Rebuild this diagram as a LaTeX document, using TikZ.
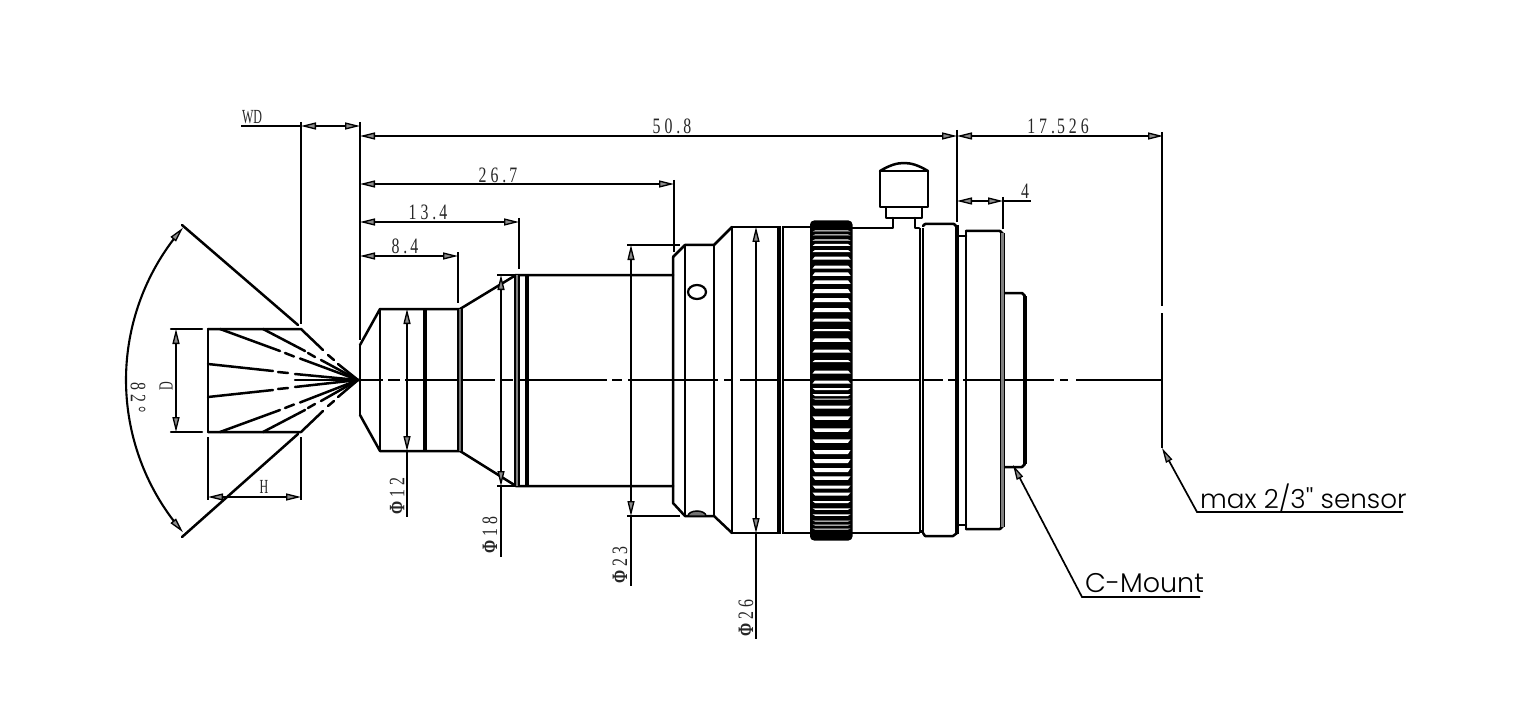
\documentclass[tikz,border=0pt]{standalone}
\usepackage{fontspec}
\usetikzlibrary{arrows.meta}
\newfontfamily\dimfont[FakeStretch=0.72,LetterSpace=18]{Liberation Serif}
\newfontfamily\narrowfont[FakeStretch=0.6]{Liberation Serif}
\newfontfamily\gothicfont[UprightFont=* Light]{Poppins}
\tikzset{
  obj/.style={line width=2.5pt,line cap=round,line join=round},
  thickobj/.style={line width=4.5pt},
  dimtip/.tip={Triangle[length=15pt,width=7pt,fill=black!45,line width=1.3pt]},
  dimline/.style={line width=1.7pt},
  dimboth/.style={line width=1.7pt,{dimtip}-{dimtip}},
  dimtext/.style={inner sep=0pt,font=\dimfont\fontsize{22}{22}\selectfont,text=black!85},
  lettertext/.style={inner sep=0pt,font=\narrowfont\fontsize{20}{20}\selectfont,text=black!85},
  leader/.style={inner sep=0pt,font=\gothicfont\fontsize{27}{27}\selectfont,anchor=west},
}
\begin{document}
\begin{tikzpicture}[x=1pt,y=-1pt]
\useasboundingbox (0,0) rectangle (1518,722);
\fill[white] (0,0) rectangle (1518,722);
\coordinate (apex) at (358,380);

% --- axis
\foreach \a/\b in {360/383,388/400,405/495,501/513,518/607,612/622,628/718,724/732,740/830,835/847,852/943,948/955,963/1054,1060/1068,1076/1163}
  \draw[dimline] (\a,380) -- (\b,380);

% --- field cone
\draw[obj] (208,329) -- (301,329) -- (323,350);
\draw[obj] (328,355) -- (334,360);
\draw[obj] (338,364) -- (apex);
\draw[obj] (208,432) -- (301,432) -- (323,411);
\draw[obj] (328,406) -- (334,401);
\draw[obj] (338,397) -- (apex);
\draw[obj] (208,329) -- (208,432);
\draw[obj] (263,329) -- (305,351);
\draw[obj] (308,353) -- (315,357);
\draw[obj] (321,360) -- (apex);
\draw[obj] (263,432) -- (305,410);
\draw[obj] (308,408) -- (315,404);
\draw[obj] (321,401) -- (apex);
\draw[obj] (220,329) -- (280,351);
\draw[obj] (285,353) -- (294,356.5);
\draw[obj] (300,358.5) -- (apex);
\draw[obj] (220,432) -- (280,410);
\draw[obj] (285,408) -- (294,404.5);
\draw[obj] (300,402.5) -- (apex);
\draw[obj] (208,364) -- (273,371);
\draw[obj] (278,372) -- (288,373);
\draw[obj] (295,374) -- (apex);
\draw[obj] (208,397) -- (273,390);
\draw[obj] (278,389) -- (288,388);
\draw[obj] (295,387) -- (apex);
\draw[obj] (295,380) -- (apex);

% --- angle
\draw[obj] (182,225) -- (298,325);
\draw[obj] (182,537) -- (298,434);
\draw[line width=2.1pt,{dimtip}-{dimtip}] plot[smooth,samples=41,domain=-41:41] ({358-232*cos(\x)},{380+232*sin(\x)});
\node[dimtext,rotate=-90] (angle) at (138,398) {82°};

% --- D and H and WD
\draw[obj] (171,329) -- (202,329);
\draw[obj] (171,432) -- (202,432);
\draw[dimboth] (176,329) -- (176,432);
\node[lettertext,rotate=90] (dD) at (166,386) {D};
\draw[dimline] (208,437) -- (208,500);
\draw[dimline] (301,437) -- (301,500);
\draw[dimboth] (208,497) -- (301,497);
\node[lettertext] (dH) at (264,487) {H};
\draw[dimline] (301,122) -- (301,324);
\draw[dimline] (241,126) -- (301,126);
\draw[dimboth] (301,126) -- (360,126);
\node[lettertext] (dWD) at (252,117) {WD};

% --- top dims
\draw[line width=2.6pt] (360,122) -- (360,340);
\draw[dimboth] (360,136) -- (957,136);
\draw[dimboth] (957,136) -- (1163,136);
\node[dimtext] (d508) at (672,126) {50.\kern3pt 8};
\node[dimtext] (d17) at (1058,126) {17.\kern2pt 526};
\draw[dimboth] (360,184) -- (674,184);
\draw[dimline] (674,180) -- (674,252);
\node[dimtext] (d267) at (498,175) {26.\kern3pt 7};
\draw[dimboth] (360,222) -- (519,222);
\draw[dimline] (519,218) -- (519,269);
\node[dimtext] (d134) at (428,212) {13.\kern3pt 4};
\draw[dimboth] (360,256) -- (458,256);
\draw[dimline] (458,252) -- (458,303);
\node[dimtext] (d84) at (405,246) {8.\kern3pt 4};
\draw[line width=2.4pt] (957,130) -- (957,222);
\draw[dimboth] (957,201) -- (1003,201);
\draw[dimline] (1003,201) -- (1031,201);
\draw[dimline] (1003,197) -- (1003,229);
\node[dimtext] (d4) at (1025,191) {4};
\draw[dimline] (1162,132) -- (1162,306);
\draw[dimline] (1162,313) -- (1162,448);

% --- front barrel
\draw[obj] (360,345) -- (360,415);
\draw[obj] (360,345) -- (380,309) -- (460,309) -- (516,275) -- (673,275);
\draw[obj] (360,415) -- (380,451) -- (460,451) -- (516,486) -- (673,486);
\draw[obj] (380,309) -- (380,451);
\draw[thickobj] (425,309) -- (425,451);
\draw[line width=4.5pt,black!55] (460,309) -- (460,451);
\draw[line width=1.8pt] (458,309) -- (458,451);
\draw[line width=1.8pt] (462,309) -- (462,451);
\draw[line width=4.5pt,black!50] (517,275) -- (517,486);
\draw[line width=1.8pt] (515,275) -- (515,486);
\draw[line width=1.8pt] (519,275) -- (519,486);
\draw[line width=3.5pt] (527,275) -- (527,486);

% --- mid barrel
\draw[obj] (673,257) -- (673,503) -- (685,516) -- (714,516) -- (732,533);
\draw[obj] (673,257) -- (685,245) -- (714,245) -- (732,227);
\draw[obj] (685,245) -- (685,516);
\draw[obj] (714,245) -- (714,516);
\draw[obj] (732,227) -- (732,533);
\draw[line width=2.2pt] (697,292) ellipse [x radius=9,y radius=7];
\fill[black!55,draw=black,line width=1.5pt] (688,516) arc[start angle=180,end angle=0,x radius=9,y radius=-5] -- cycle;
\draw[obj] (732,227) -- (810,227);
\draw[obj] (732,533) -- (810,533);
\draw[line width=4.5pt] (779,227) -- (779,533);
\draw[line width=2pt] (783,227) -- (783,533);
\draw[white,line width=1.2pt] (781.5,224) -- (781.5,536);

% --- knurl
\fill[black,rounded corners=4pt] (810,220.5) rectangle (852.5,540.5);
\foreach \y/\h in {231/1,235/1,240/1.2,245/2,251/2,258/3,267/3,274/3.5,282/3.5,291/4,300/4,310/4,320/3,330/2,340/3.5,351/3,361/2,372/3,382/3}
  \fill[white] (815,\y-\h/2) -- (848,\y-\h/2) -- (850.5,\y+\h/2) -- (812.5,\y+\h/2) -- cycle;
\foreach \y/\h in {389/2,395/2,399/1,407/3,418/3.5,430/3.5,441/3.5,452/4,461/4,470/4,478/3.5,487/3,494/3,502/2,509/1.5,515/1.5,521/1,525/1,529/1}
  \fill[white] (812.5,\y-\h/2) -- (850.5,\y-\h/2) -- (848,\y+\h/2) -- (815,\y+\h/2) -- cycle;

% --- rear barrel
\draw[obj] (852,228) -- (893,228) -- (893,218);
\draw[obj] (915,218) -- (915,228) -- (919,228);
\draw[obj] (852,533) -- (919,533);
\draw[line width=5pt] (921,228) -- (921,533);
\draw[white,line width=.6pt] (921,228) -- (921,530);
\draw[obj] (880,171) rectangle (928,207);
\draw[obj] (886,207) rectangle (922,218);
\draw[obj] (880,171) .. controls (890,165) and (897,163) .. (904,163) .. controls (911,163) and (918,165) .. (928,171);
\draw[obj] (923,226) -- (925,224) -- (954,224) -- (957,227);
\draw[obj] (923,533) -- (925,536) -- (953,536) -- (957,533);
\draw[line width=4pt] (956.5,225) -- (956.5,534);
\draw[obj] (958,236) -- (966,236);
\draw[obj] (958,525) -- (966,525);
\draw[obj] (966,231) -- (966,529);
\draw[obj] (966,231) -- (1000,231) -- (1003,234);
\draw[obj] (966,529) -- (1000,529) -- (1003,526);
\draw[line width=4pt,black!50] (1002.5,233) -- (1002.5,527);
\draw[line width=1.8pt] (1000.5,233) -- (1000.5,527);
\draw[line width=1.8pt] (1004.5,233) -- (1004.5,527);
\draw[obj] (1005,293) -- (1022,293) -- (1025,296);
\draw[obj] (1005,467) -- (1022,467) -- (1025,464);
\draw[line width=3.6pt] (1025,296) -- (1025,464);

% --- diameter dims
\draw[dimboth] (407,309) -- (407,451);
\draw[dimline] (407,451) -- (407,517);
\node[dimtext,rotate=90] (d12) at (397,496) {\textbf{Φ}12};
\draw[dimline] (497,275) -- (516,275);
\draw[dimline] (497,486) -- (516,486);
\draw[dimboth] (501,275) -- (501,486);
\draw[dimline] (501,486) -- (501,557);
\node[dimtext,rotate=90] (d18) at (490,535) {\textbf{Φ}18};
\draw[dimline] (627,245) -- (680,245);
\draw[dimline] (627,516) -- (680,516);
\draw[dimboth] (631,245) -- (631,516);
\draw[dimline] (631,516) -- (631,586);
\node[dimtext,rotate=90] (d23) at (620,565) {\textbf{Φ}23};
\draw[dimboth] (756,227) -- (756,533);
\draw[dimline] (756,533) -- (756,639);
\node[dimtext,rotate=90] (d26) at (746,618) {\textbf{Φ}26};

% --- leaders
\coordinate (cmtip) at (1013,465);
\coordinate (cmknee) at (1082,597);
\coordinate (cmend) at (1200,597);
\draw[dimline,{dimtip}-] (cmtip) -- (cmknee) -- (cmend);
\node[leader] (cm) at (1085,583) {C-Mount};
\coordinate (stip) at (1162,448);
\coordinate (sknee) at (1197,512);
\coordinate (send) at (1403,512);
\draw[dimline,{dimtip}-] (stip) -- (sknee) -- (send);
\node[leader,font=\gothicfont\fontsize{26.2}{26.2}\selectfont] (sensor) at (1200,498) {max 2/3'' sensor};
\end{tikzpicture}
\end{document}
